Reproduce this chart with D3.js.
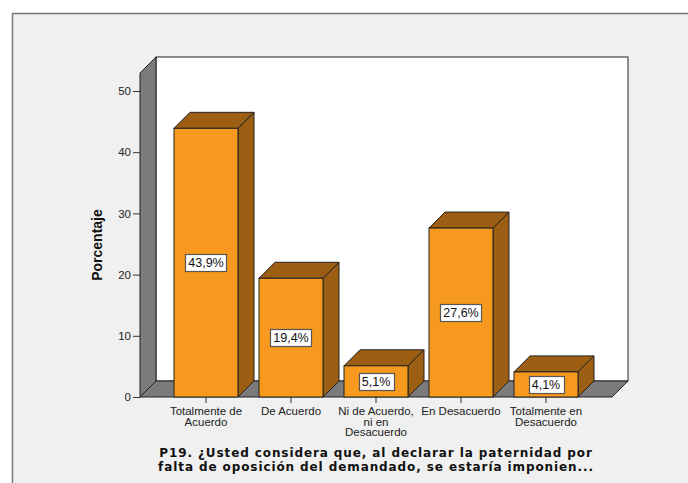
<!DOCTYPE html>
<html><head><meta charset="utf-8">
<script src="https://cdn.jsdelivr.net/npm/d3@7/dist/d3.min.js"></script>
<style>body{margin:0;background:#fff;}svg{display:block;}</style>
</head><body>
<svg id="c" width="688" height="483"></svg>
<script>
const categories = ["Totalmente de Acuerdo","De Acuerdo","Ni de Acuerdo, ni en Desacuerdo","En Desacuerdo","Totalmente en Desacuerdo"];
const categoryLines = [["Totalmente de","Acuerdo"],["De Acuerdo"],["Ni de Acuerdo,","ni en","Desacuerdo"],["En Desacuerdo"],["Totalmente en","Desacuerdo"]];
const values = [43.9, 19.4, 5.1, 27.6, 4.1];
const valueLabels = ["43,9%","19,4%","5,1%","27,6%","4,1%"];
const yTicks = [0,10,20,30,40,50];
const yTitle = "Porcentaje";
const titleLines = ["P19. ¿Usted considera que, al declarar la paternidad por","falta de oposición del demandado, se estaría imponien..."];

const svg = d3.select("#c");
const W=688,H=483;
const x0=140, x1=612, y0=397, yTop=73, D=16;
const orange="#F7991F", brown="#9B5E13", gray="#7B7B7B", dark="#222";

svg.append("rect").attr("width",W).attr("height",H).attr("fill","#fff");
svg.append("rect").attr("x",12.5).attr("y",13.5).attr("width",W).attr("height",H).attr("fill","#F0F0F0").attr("stroke","#777").attr("stroke-width",1.5);

const y = d3.scaleLinear().domain([0,53]).range([y0, y0-53*6.12]);
const x = d3.scaleBand().domain(categories).range([x0,x1]).paddingInner(0.247).paddingOuter(0.4);

// back wall
svg.append("rect").attr("x",x0+D).attr("y",yTop-D).attr("width",x1-x0).attr("height",y0-yTop).attr("fill","#fff").attr("stroke",dark).attr("stroke-width",1);
// left wall
svg.append("path").attr("d",`M${x0},${y0}L${x0},${yTop}L${x0+D},${yTop-D}L${x0+D},${y0-D}Z`).attr("fill",gray).attr("stroke",dark).attr("stroke-width",1);
// floor
svg.append("path").attr("d",`M${x0},${y0}L${x0+D},${y0-D}L${x1+D},${y0-D}L${x1},${y0}Z`).attr("fill",gray).attr("stroke",dark).attr("stroke-width",1);

// y axis
const ya = svg.append("g").attr("transform",`translate(${x0},0)`)
  .call(d3.axisLeft(y).tickValues(yTicks).tickSize(7).tickPadding(2));
ya.select(".domain").remove();
ya.selectAll("line").attr("stroke","#333");
ya.selectAll("text").attr("font-family","Liberation Sans, Arial, sans-serif").attr("font-size",11.5).attr("fill","#222");

// x axis ticks
const xa = svg.append("g").attr("transform",`translate(0,${y0})`)
  .call(d3.axisBottom(x).tickSize(6).tickFormat(""));
xa.select(".domain").remove();
xa.selectAll("line").attr("stroke","#333");

// bars
const bw = x.bandwidth();
const g = svg.append("g");
values.forEach((v,i)=>{
  const bx = x(categories[i]), by = y(v);
  g.append("path").attr("d",`M${bx+bw},${y0}L${bx+bw},${by}L${bx+bw+D},${by-D}L${bx+bw+D},${y0-D}Z`).attr("fill",brown).attr("stroke",dark).attr("stroke-width",1);
  g.append("path").attr("d",`M${bx},${by}L${bx+D},${by-D}L${bx+bw+D},${by-D}L${bx+bw},${by}Z`).attr("fill",brown).attr("stroke",dark).attr("stroke-width",1);
  g.append("rect").attr("x",bx).attr("y",by).attr("width",bw).attr("height",y0-by).attr("fill",orange).attr("stroke",dark).attr("stroke-width",1);
  const cx = bx+bw/2, cy = y(v/2);
  const t = g.append("text").attr("x",cx).attr("y",cy+4.5).attr("text-anchor","middle")
    .attr("font-family","Liberation Sans, Arial, sans-serif").attr("font-size",12.5).attr("fill","#111").text(valueLabels[i]);
  const bb = t.node().getBBox();
  g.insert("rect", () => t.node()).attr("x",Math.round(bb.x-3)+0.5).attr("y",Math.round(cy-8.5)+0.5).attr("width",Math.round(bb.width+6)).attr("height",17)
    .attr("fill","#fff").attr("stroke","#555").attr("stroke-width",1.2);
});

// category labels
categoryLines.forEach((lines,i)=>{
  const cx = x(categories[i])+bw/2;
  const t = svg.append("text").attr("text-anchor","middle").attr("font-family","Liberation Sans, Arial, sans-serif").attr("font-size",11.5).attr("fill","#222");
  lines.forEach((l,j)=>t.append("tspan").attr("x",cx).attr("y",415+j*10.5).text(l));
});

// y title
svg.append("text").attr("transform","translate(102,245) rotate(-90)").attr("text-anchor","middle")
  .attr("font-family","Liberation Sans, Arial, sans-serif").attr("font-weight","bold").attr("font-size",14).attr("fill","#111").text(yTitle);

// chart title
titleLines.forEach((l,j)=>{
  svg.append("text").attr("x",376).attr("y",457+j*14).attr("text-anchor","middle")
    .attr("font-family","DejaVu Sans, Verdana, sans-serif").attr("font-weight","bold").attr("font-size",12).attr("letter-spacing",0.9).attr("fill","#111").text(l);
});
</script>
</body></html>
